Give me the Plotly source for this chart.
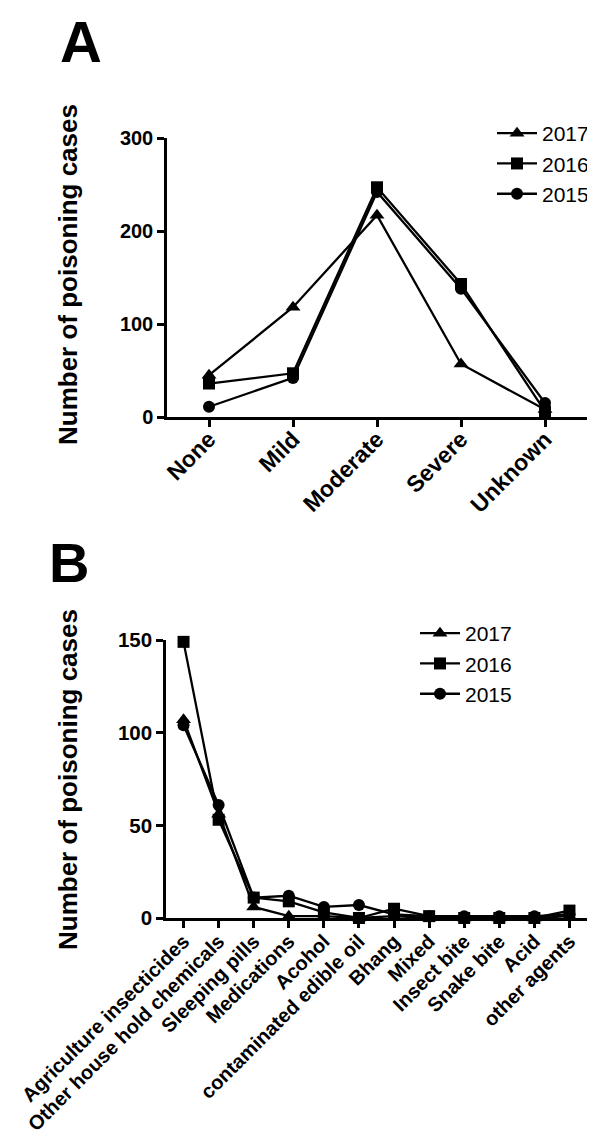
import plotly.graph_objects as go

# ---- Panel A data ----
severity = ["None", "Mild", "Moderate", "Severe", "Unknown"]
a_2017 = [45, 118, 217, 57, 8]
a_2016 = [36, 47, 247, 143, 6]
a_2015 = [11, 42, 242, 138, 15]
a_yticks = [0, 100, 200, 300]

# ---- Panel B data ----
agents = ["Agriculture insecticides", "Other house hold chemicals", "Sleeping pills",
          "Medications", "Acohol", "contaminated edible oil", "Bhang", "Mixed",
          "Insect bite", "Snake bite", "Acid", "other agents"]
b_2017 = [107, 56, 6, 1, 1, 0, 1, 0, 0, 0, 0, 1]
b_2016 = [149, 53, 11, 9, 3, 0, 5, 1, 0, 0, 0, 4]
b_2015 = [104, 61, 11, 12, 6, 7, 2, 1, 1, 1, 1, 2]
b_yticks = [0, 50, 100, 150]

years = ["2017", "2016", "2015"]
symbols = {"2017": "triangle-up", "2016": "square", "2015": "circle"}
msize = {"2017": 13, "2016": 12, "2015": 12}

OFF = 8  # default page body margin
W, H = 595 - OFF, 1140 - OFF
FONT = "Liberation Sans, Arial, sans-serif"

def px_x(p):
    return (p - OFF) / W

def px_y(p):
    return 1 - (p - OFF) / H

fig = go.Figure()

for yr, vals in zip(years, [a_2017, a_2016, a_2015]):
    fig.add_trace(go.Scatter(
        x=severity, y=vals, mode="lines+markers", name=yr,
        line=dict(color="black", width=2.3),
        marker=dict(symbol=symbols[yr], size=msize[yr], color="black"),
        cliponaxis=False, xaxis="x", yaxis="y", legend="legend"))

for yr, vals in zip(years, [b_2017, b_2016, b_2015]):
    fig.add_trace(go.Scatter(
        x=agents, y=vals, mode="lines+markers", name=yr,
        line=dict(color="black", width=2.3),
        marker=dict(symbol=symbols[yr], size=msize[yr], color="black"),
        cliponaxis=False, xaxis="x2", yaxis="y2", legend="legend2"))

axis_common = dict(showline=True, linecolor="black", linewidth=2.5,
                   ticks="outside", ticklen=7, tickwidth=2.5, tickcolor="black",
                   showgrid=False, zeroline=False, automargin=False)

fig.update_layout(
    width=W, height=H,
    margin=dict(l=0, r=0, t=0, b=0, autoexpand=False),
    paper_bgcolor="white", plot_bgcolor="white",
    font=dict(family=FONT, color="black"),
    xaxis=dict(domain=[px_x(167), px_x(587)], range=[-0.5, 4.5], anchor="y",
               tickangle=-45, tickfont=dict(family=FONT, size=23, weight="bold"),
               ticklabelstandoff=-10, **axis_common),
    yaxis=dict(domain=[px_y(417), px_y(138)], range=[0, 300], anchor="x",
               tickvals=a_yticks, tickfont=dict(family=FONT, size=20, weight="bold"),
               **axis_common),
    xaxis2=dict(domain=[px_x(166), px_x(587)], range=[-0.5, 11.5], anchor="y2",
                tickangle=-45, tickfont=dict(family=FONT, size=20, weight="bold"),
                ticklabelstandoff=-6, **axis_common),
    yaxis2=dict(domain=[px_y(918), px_y(640)], range=[0, 150], anchor="x2",
                tickvals=b_yticks, tickfont=dict(family=FONT, size=20.5, weight="bold"),
                **axis_common),
    legend=dict(x=px_x(492), y=px_y(113), xanchor="left", yanchor="top",
                font=dict(family=FONT, size=21), bgcolor="rgba(0,0,0,0)",
                tracegroupgap=0, itemwidth=40),
    legend2=dict(x=px_x(415), y=px_y(613), xanchor="left", yanchor="top",
                 font=dict(family=FONT, size=21), bgcolor="rgba(0,0,0,0)",
                 tracegroupgap=0, itemwidth=40),
    showlegend=True,
)

annotations = [
    dict(text="<b>A</b>", x=px_x(81), y=1, xref="paper", yref="paper",
         showarrow=False, font=dict(family=FONT, size=58), borderpad=0,
         xanchor="center", yanchor="top"),
    dict(text="<b>B</b>", x=px_x(69), y=px_y(563), xref="paper", yref="paper",
         showarrow=False, font=dict(family=FONT, size=56), xanchor="center", yanchor="middle"),
    dict(text="<b>Number of poisoning cases</b>", x=px_x(68), y=px_y(275), xref="paper", yref="paper",
         showarrow=False, textangle=-90, font=dict(family=FONT, size=26),
         xanchor="center", yanchor="middle"),
    dict(text="<b>Number of poisoning cases</b>", x=px_x(68), y=px_y(780), xref="paper", yref="paper",
         showarrow=False, textangle=-90, font=dict(family=FONT, size=26),
         xanchor="center", yanchor="middle"),
]
fig.update_layout(annotations=annotations)

fig.write_html("out.html")
